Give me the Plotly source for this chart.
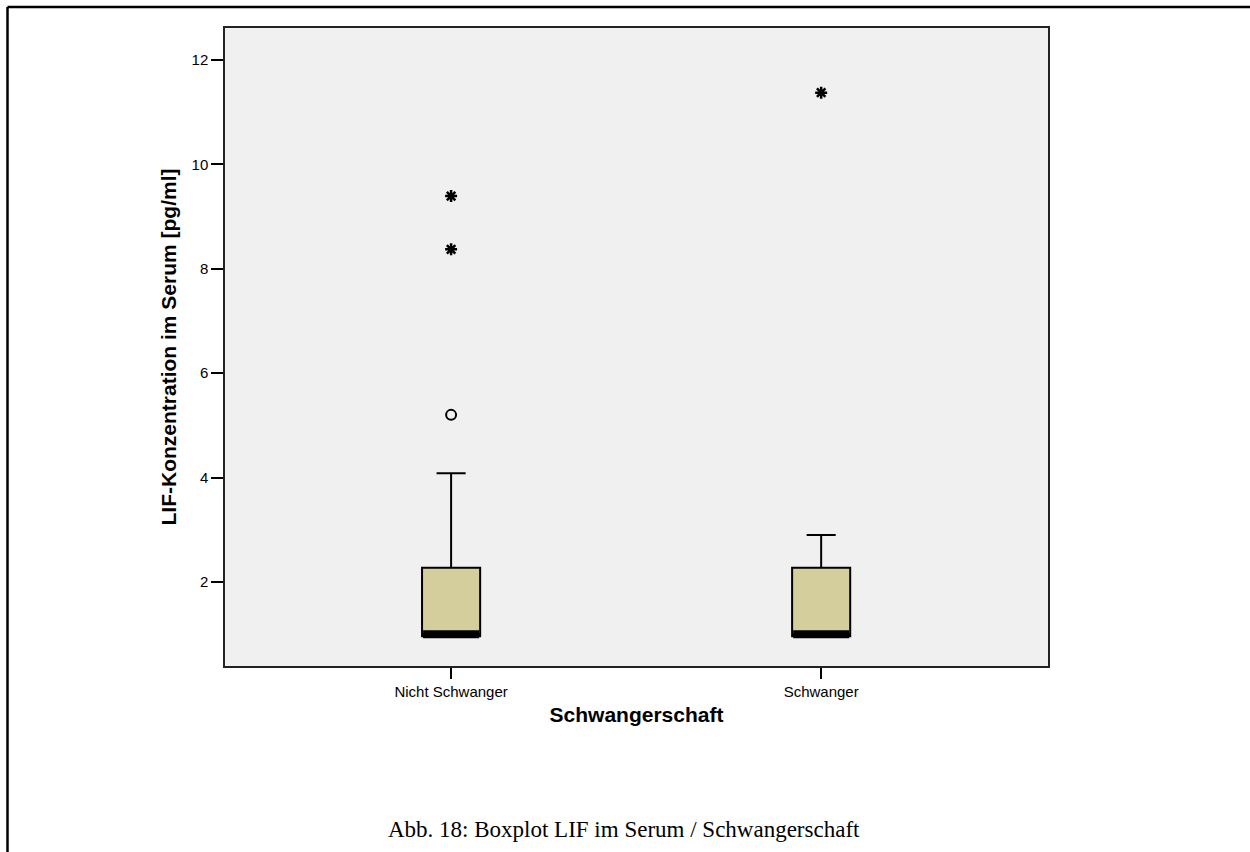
import plotly.graph_objects as go

# Groups and box statistics (LIF in serum, pg/ml)
groups = ["Nicht Schwanger", "Schwanger"]
q1 = [0.96, 0.96]
median = [1.0, 1.0]
q3 = [2.27, 2.27]
lower_whisker = [0.96, 0.96]
upper_whisker = [4.08, 2.9]

# Outliers: mild (circle) and extreme (asterisk)
mild_x = ["Nicht Schwanger"]
mild_y = [5.2]
extreme_x = ["Nicht Schwanger", "Nicht Schwanger", "Schwanger"]
extreme_y = [9.39, 8.37, 11.37]

y_ticks = [2, 4, 6, 8, 10, 12]

W, H = 1250, 852
L, R, T, B = 225, 202, 28, 186
pw, ph = W - L - R, H - T - B

fig = go.Figure()

fig.add_trace(go.Box(
    x=groups, q1=q1, median=median, q3=q3,
    lowerfence=lower_whisker, upperfence=upper_whisker,
    width=0.157, whiskerwidth=0.5,
    fillcolor="#D3CE9B",
    line=dict(color="#000000", width=2),
    boxpoints=False, showlegend=False, hoverinfo="skip",
))

# Heavy median bar
fig.add_trace(go.Scatter(
    x=groups, y=median, mode="markers",
    marker=dict(symbol="line-ew", size=40,
                line=dict(color="#000000", width=8)),
    showlegend=False, hoverinfo="skip",
))

fig.add_trace(go.Scatter(
    x=mild_x, y=mild_y, mode="markers",
    marker=dict(symbol="circle-open", size=10, color="#000000",
                line=dict(color="#000000", width=2)),
    showlegend=False,
))

fig.add_trace(go.Scatter(
    x=extreme_x, y=extreme_y, mode="markers",
    marker=dict(symbol="asterisk-open", size=10, color="#000000",
                line=dict(color="#000000", width=2.5)),
    showlegend=False,
))

# Page frame (top and left rule)
fx0 = (7.5 - L) / pw
fx1 = (W - L) / pw
fy_top = (H - B - 7) / ph
fy_bot = (H - B - H) / ph
shapes = [
    dict(type="line", xref="paper", yref="paper", x0=fx0, x1=fx1,
         y0=fy_top, y1=fy_top, line=dict(color="#000000", width=2.5)),
    dict(type="line", xref="paper", yref="paper", x0=fx0, x1=fx0,
         y0=fy_top, y1=fy_bot, line=dict(color="#000000", width=2.5)),
]

fig.update_layout(
    width=W, height=H,
    margin=dict(l=L, r=R, t=T, b=B),
    paper_bgcolor="#FFFFFF",
    plot_bgcolor="#F0F0F0",
    font=dict(family="Arial, Liberation Sans, sans-serif", color="#000000", size=15),
    shapes=shapes,
    annotations=[dict(
        text="Abb. 18: Boxplot LIF im Serum / Schwangerschaft",
        xref="paper", yref="paper",
        x=(624 - L) / pw, y=(H - B - 829) / ph,
        xanchor="center", yanchor="middle", showarrow=False,
        font=dict(family="Liberation Serif, serif", size=23, color="#000000"),
    )],
)

fig.update_xaxes(
    type="category", range=[-0.611, 1.613],
    showline=True, mirror=True, linecolor="#222222", linewidth=1.5,
    ticks="outside", ticklen=11, tickwidth=1.5, tickcolor="#000000",
    showgrid=False, zeroline=False,
    tickfont=dict(size=15),
    title=dict(text="<b>Schwangerschaft</b>", font=dict(size=21), standoff=9),
)
fig.update_yaxes(
    range=[0.39, 12.61],
    tickvals=y_ticks,
    showline=True, mirror=True, linecolor="#222222", linewidth=1.5,
    ticks="outside", ticklen=12, tickwidth=1.5, tickcolor="#000000",
    showgrid=False, zeroline=False,
    tickfont=dict(size=15),
    title=dict(text="<b>LIF-Konzentration im Serum [pg/ml]</b>", font=dict(size=21), standoff=9),
)

fig.write_html("out.html")
